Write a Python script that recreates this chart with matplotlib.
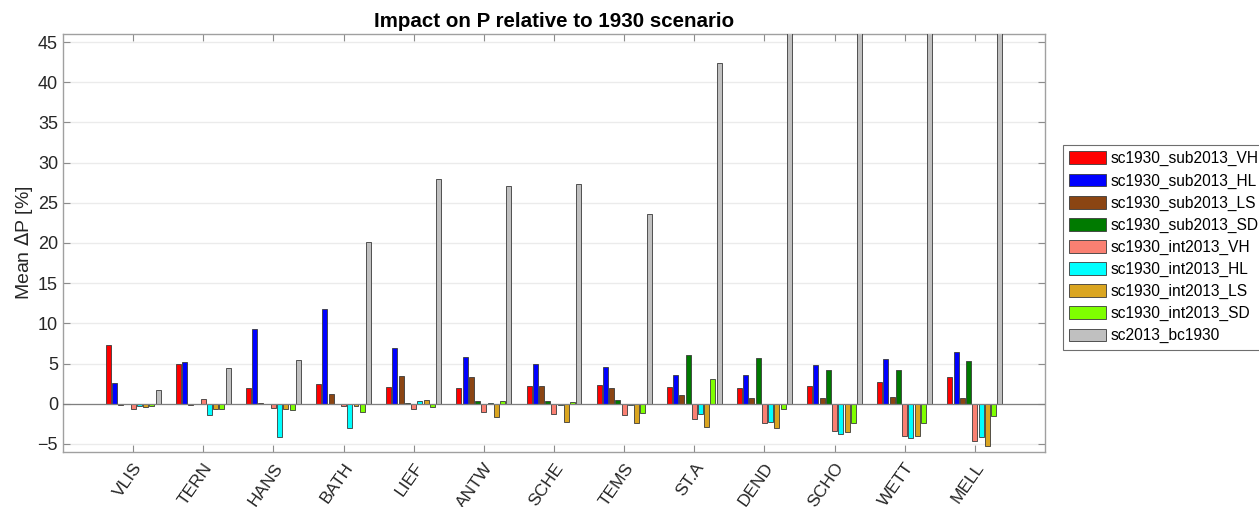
import numpy as np
import matplotlib
matplotlib.use('Agg')
import matplotlib.pyplot as plt

plt.rcParams['font.family'] = ['Liberation Sans', 'DejaVu Sans']

# --- Dados: variação média de P (%) por estação e cenário ---
stations = ['VLIS', 'TERN', 'HANS', 'BATH', 'LIEF', 'ANTW', 'SCHE',
            'TEMS', 'ST.A', 'DEND', 'SCHO', 'WETT', 'MELL']

scenarios = ['sc1930_sub2013_VH', 'sc1930_sub2013_HL', 'sc1930_sub2013_LS',
             'sc1930_sub2013_SD', 'sc1930_int2013_VH', 'sc1930_int2013_HL',
             'sc1930_int2013_LS', 'sc1930_int2013_SD', 'sc2013_bc1930']

sub_vh = [7.27, 4.96, 1.90, 2.44, 2.06, 2.02, 2.18, 2.31, 2.06, 1.97, 2.27, 2.69, 3.32]
sub_hl = [2.64, 5.25, 9.26, 11.80, 6.93, 5.76, 4.92, 4.58, 3.53, 3.53, 4.87, 5.59, 6.47]
sub_ls = [-0.15, -0.10, 0.05, 1.25, 3.40, 3.28, 2.27, 1.97, 1.05, 0.71, 0.71, 0.80, 0.71]
sub_sd = [0.02, 0.02, 0.02, 0.03, 0.05, 0.38, 0.29, 0.42, 6.05, 5.71, 4.24, 4.16, 5.29]
int_vh = [-0.60, 0.62, -0.50, -0.34, -0.71, -0.97, -1.30, -1.34, -1.85, -2.39, -3.45, -3.99, -4.66]
int_hl = [-0.30, -1.36, -4.13, -2.97, 0.29, 0.05, -0.20, -0.20, -1.26, -2.27, -3.74, -4.20, -4.12]
int_ls = [-0.40, -0.60, -0.70, -0.34, 0.46, -1.64, -2.27, -2.39, -2.90, -3.03, -3.49, -4.03, -5.25]
int_sd = [-0.30, -0.60, -0.83, -1.05, -0.38, 0.34, 0.20, -1.13, 3.03, -0.59, -2.35, -2.35, -1.51]
bc1930 = [1.74, 4.50, 5.50, 20.10, 28.00, 27.10, 27.30, 23.60, 42.40, 55.0, 60.0, 65.0, 70.0]

series = [sub_vh, sub_hl, sub_ls, sub_sd, int_vh, int_hl, int_ls, int_sd, bc1930]
cores = ['#ff0000', '#0000ff', '#8b4513', '#007a00', '#fa8072',
         '#00ffff', '#daa520', '#7fff00', '#c0c0c0']

# --- Figura ---
fig = plt.figure(figsize=(12.59, 5.07), dpi=100)
ax = fig.add_axes([0.050, 0.1085, 0.780, 0.8245])

x = np.arange(1, len(stations) + 1)
n = len(series)
group_w = 0.8
pitch = group_w / n
bar_w = pitch * 0.8

for i, (vals, cor, nome) in enumerate(zip(series, cores, scenarios)):
    offs = -group_w / 2 + pitch * (i + 0.5)
    ax.bar(x + offs, vals, width=bar_w, color=cor, edgecolor='#3a3a3a',
           linewidth=0.6, label=nome, zorder=3)

# linha de base das barras
ax.axhline(0, color='#7f7f7f', linewidth=0.9, zorder=4)

ax.set_xlim(0, 14)
ax.set_ylim(-6, 46)
ax.set_yticks(np.arange(-5, 46, 5))
ax.set_xticks(x)
ax.set_xticklabels(stations, rotation=55, ha='right', rotation_mode='anchor',
                   fontsize=12.5, color='#262626')
ax.tick_params(axis='y', labelsize=13, labelcolor='#262626')
ax.tick_params(direction='in', length=5, color='#8c8c8c', top=True, right=True)
ax.tick_params(axis='x', pad=6)

ax.yaxis.grid(True, color='#ebebeb', linewidth=1.0, zorder=0)
ax.set_axisbelow(True)
for s in ax.spines.values():
    s.set_color('#a0a0a0')
    s.set_linewidth(1.0)

ax.set_ylabel(r'Mean $\Delta$P [%]', fontsize=14, color='#262626', labelpad=2)
ax.set_title('Impact on P relative to 1930 scenario', fontsize=14.8,
             fontweight='bold', pad=5)

leg = ax.legend(loc='upper left', bbox_to_anchor=(0.844, 0.714),
                bbox_transform=fig.transFigure, borderaxespad=0,
                fontsize=11.2, handlelength=2.4, handleheight=0.9,
                handletextpad=0.3, labelspacing=0.45, borderpad=0.4,
                fancybox=False, framealpha=1)
leg.get_frame().set_edgecolor('#6e6e6e')
leg.get_frame().set_linewidth(0.8)

fig.savefig('out.png', dpi=100)
